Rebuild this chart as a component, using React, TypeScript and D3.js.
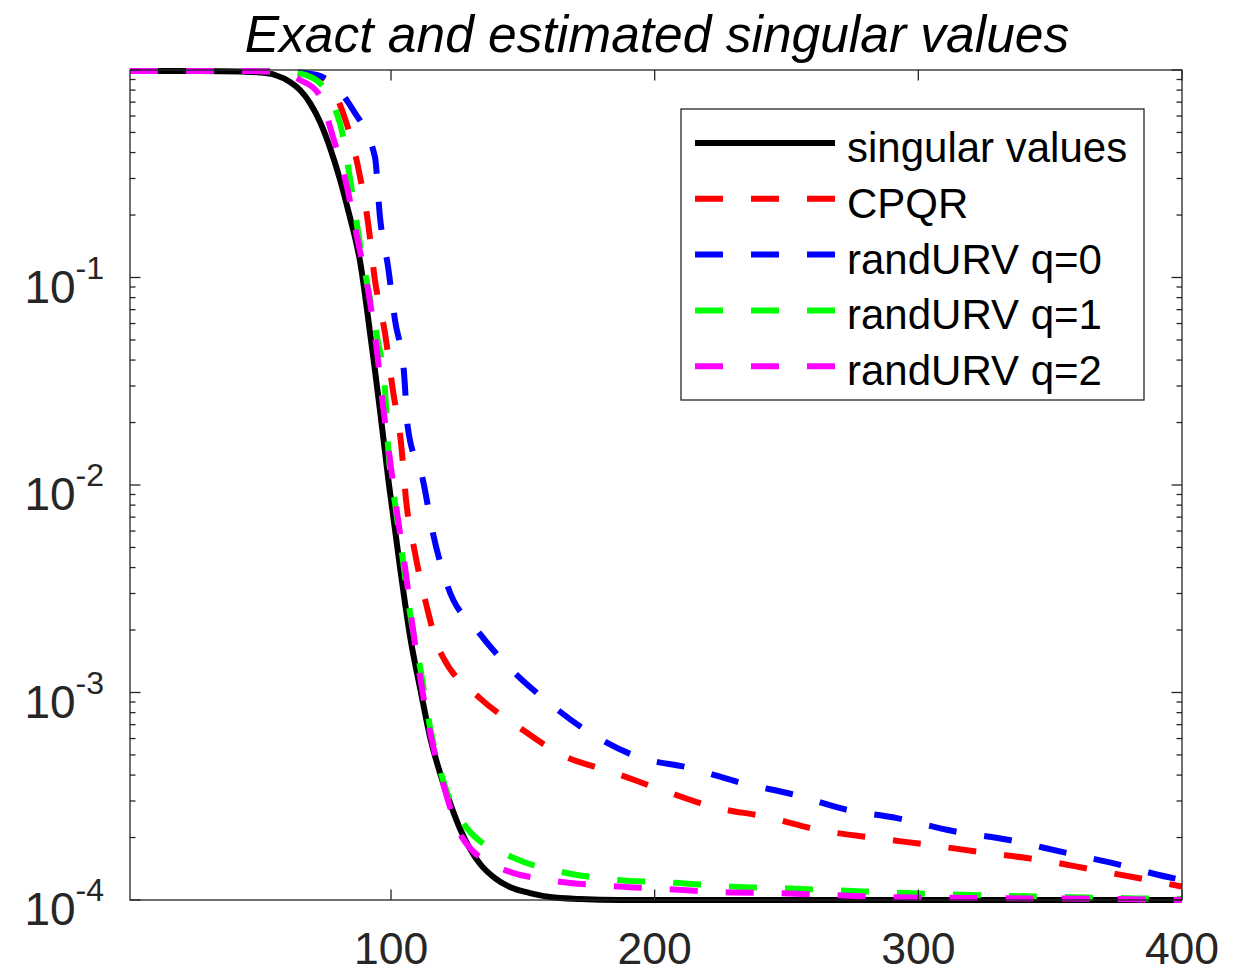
import React from "react";
import * as d3 from "d3";

// [index, value] samples
const singularValues: [number, number][] = [
  [1, 0.989], [27.6, 0.989], [42.7, 0.9835], [50.3, 0.9726], [56.0, 0.946], [61.7, 0.8753],
  [65.5, 0.801], [69.3, 0.693], [73.1, 0.5615], [76.9, 0.4208], [80.7, 0.2951], [84.5, 0.1935],
  [86.4, 0.155], [88.3, 0.1188], [90.1, 0.0833], [92.0, 0.0546], [93.9, 0.0358], [95.8, 0.023],
  [99.2, 0.01011], [103.4, 0.004025], [107.2, 0.001873], [111.4, 0.000994], [114.8, 6.1e-4],
  [118.6, 4.09e-4], [122.4, 2.934e-4], [126.2, 2.199e-4], [130.0, 1.761e-4], [133.8, 1.491e-4],
  [139.4, 1.276e-4], [145.1, 1.155e-4], [152.7, 1.08e-4], [160.3, 1.034e-4], [171.7, 1.011e-4],
  [186.8, 1.0e-4], [300, 1.0e-4], [400, 1.0e-4],
];

const cpqr: [number, number][] = [
  [1, 0.99], [46.5, 0.99], [61.7, 0.978], [69.3, 0.946], [74.2, 0.915], [81.8, 0.621],
  [87.5, 0.341], [91.3, 0.183], [93.9, 0.0973], [97.7, 0.054], [100.7, 0.0287],
  [103.8, 0.0159], [105.7, 0.00847], [109.1, 0.0047], [113.6, 0.00258], [117.8, 0.00166],
  [119.7, 0.00148], [133.7, 9.4e-4], [148.9, 6.75e-4], [164.8, 5.0e-4], [183.8, 4.14e-4],
  [202.8, 3.39e-4], [222.1, 2.81e-4], [242.6, 2.51e-4], [262.7, 2.17e-4], [283.6, 1.99e-4],
  [304.4, 1.84e-4], [325.3, 1.69e-4], [346.1, 1.56e-4], [366.2, 1.4e-4], [387.1, 1.25e-4],
  [400, 1.16e-4],
];

const randURVq0: [number, number][] = [
  [1, 0.99], [46.5, 0.99], [61.7, 0.978], [71.9, 0.946], [85.6, 0.641], [93.9, 0.381],
  [95.8, 0.196], [98.9, 0.112], [101.5, 0.0624], [104.9, 0.035], [106.4, 0.0188],
  [112.1, 0.01057], [115.9, 0.00587], [121.6, 0.00322], [132.6, 0.002], [145.1, 0.00131],
  [159.5, 9.0e-4], [175.5, 6.38e-4], [193.7, 4.89e-4], [213.4, 4.33e-4], [233.1, 3.66e-4],
  [253.2, 3.21e-4], [272.9, 2.72e-4], [291.9, 2.48e-4], [313.1, 2.15e-4], [334, 1.95e-4],
  [354.9, 1.7e-4], [375.3, 1.49e-4], [394.7, 1.29e-4], [400, 1.25e-4],
];

const randURVq1: [number, number][] = [
  [1, 0.99], [46.5, 0.99], [61.7, 0.978], [70.4, 0.915], [80.6, 0.555], [84.4, 0.302],
  [87.5, 0.166], [90.9, 0.094], [94.7, 0.0517], [97.7, 0.0287], [98.9, 0.01525],
  [101.5, 0.00819], [104.5, 0.00435], [107.2, 0.00242], [111, 0.00133], [114.8, 6.82e-4],
  [119.7, 3.79e-4], [128.8, 2.22e-4], [145.9, 1.61e-4], [165.2, 1.36e-4], [186.1, 1.25e-4],
  [207.7, 1.21e-4], [229.3, 1.16e-4], [247.5, 1.14e-4], [295.7, 1.08e-4], [335.9, 1.045e-4],
  [379.1, 1.02e-4], [400, 1.01e-4],
];

const randURVq2: [number, number][] = [
  [1, 0.99], [46.5, 0.99], [58, 0.975], [65.5, 0.895], [72.3, 0.775], [78, 0.475],
  [83.3, 0.273], [87.5, 0.148], [91.3, 0.087], [94.7, 0.0437], [97, 0.0238], [99.6, 0.0132],
  [102.3, 0.00733], [105.3, 0.00403], [108, 0.00216], [111, 0.00119], [114.8, 6.45e-4],
  [119.7, 3.66e-4], [126.9, 2.01e-4], [141.3, 1.43e-4], [161.4, 1.24e-4], [183, 1.17e-4],
  [204.7, 1.13e-4], [225.9, 1.09e-4], [244.9, 1.08e-4], [293, 1.03e-4], [332.9, 1.02e-4],
  [375.7, 1.01e-4], [400, 1.0e-4],
];

const seriesNames = ["singular values", "CPQR", "randURV q=0", "randURV q=1", "randURV q=2"];
const seriesColors = ["#000000", "#ff0000", "#0000ff", "#00ff00", "#ff00ff"];
const seriesData = [singularValues, cpqr, randURVq0, randURVq1, randURVq2];

const xTicks = [100, 200, 300, 400];
const yMajorExps = [-4, -3, -2, -1];
const titleText = "Exact and estimated singular values";

export default function App() {
  const W = 1246, H = 973;
  const left = 130, right = 1182, top = 70, bottom = 900;
  const x = d3.scaleLinear().domain([1, 400]).range([left, right]);
  const y = d3.scaleLog().domain([1e-4, 1]).range([bottom, top]);
  const line = d3
    .line<[number, number]>()
    .x((d) => x(d[0]))
    .y((d) => y(d[1]))
    .curve(d3.curveMonotoneX);

  const axisColor = "#262626";
  const font = "'Liberation Sans', Arial, Helvetica, sans-serif";

  const minorTicks: number[] = [];
  for (let e = -4; e < 0; e++) {
    for (let m = 2; m <= 9; m++) minorTicks.push(m * Math.pow(10, e));
  }
  const majorTicks = [1e-4, 1e-3, 1e-2, 1e-1, 1];

  const legX = 681, legY = 109, legW = 463, legH = 291;
  const rowY = (i: number) => 143 + i * 55.8;

  return (
    <svg
      width={W}
      height={H}
      style={{ position: "absolute", left: 0, top: 0, background: "#fff" }}
      fontFamily={font}
    >
      <rect x={0} y={0} width={W} height={H} fill="#fff" />
      {/* Title */}
      <text x={657} y={52} textAnchor="middle" fontSize={51.5} fontStyle="italic" fill="#000">
        {titleText}
      </text>

      {/* series */}
      {seriesData.map((d, i) => (
        <path
          key={seriesNames[i]}
          d={line(d) || ""}
          fill="none"
          stroke={seriesColors[i]}
          strokeWidth={6}
          strokeDasharray={i === 0 ? undefined : "28,28"}
          strokeLinejoin="round"
        />
      ))}

      {/* axes box */}
      <rect
        x={left}
        y={top}
        width={right - left}
        height={bottom - top}
        fill="none"
        stroke={axisColor}
        strokeWidth={1.3}
      />

      {/* y ticks */}
      {majorTicks.map((v) => (
        <g key={"ma" + v}>
          <line x1={left} x2={left + 10.5} y1={y(v)} y2={y(v)} stroke={axisColor} strokeWidth={1.3} />
          <line x1={right} x2={right - 10.5} y1={y(v)} y2={y(v)} stroke={axisColor} strokeWidth={1.3} />
        </g>
      ))}
      {minorTicks.map((v) => (
        <g key={"mi" + v}>
          <line x1={left} x2={left + 5.5} y1={y(v)} y2={y(v)} stroke={axisColor} strokeWidth={1.3} />
          <line x1={right} x2={right - 5.5} y1={y(v)} y2={y(v)} stroke={axisColor} strokeWidth={1.3} />
        </g>
      ))}
      {yMajorExps.map((e) => (
        <text
          key={"yl" + e}
          x={104}
          y={y(Math.pow(10, e)) + 25}
          textAnchor="end"
          fontSize={46}
          fill={axisColor}
        >
          10
          <tspan fontSize={32} dy={-24}>
            {String(e)}
          </tspan>
        </text>
      ))}

      {/* x ticks */}
      {xTicks.map((t) => (
        <g key={"xt" + t}>
          <line x1={x(t)} x2={x(t)} y1={bottom} y2={bottom - 10.5} stroke={axisColor} strokeWidth={1.3} />
          <line x1={x(t)} x2={x(t)} y1={top} y2={top + 10.5} stroke={axisColor} strokeWidth={1.3} />
          <text x={x(t)} y={964} textAnchor="middle" fontSize={44.5} fill={axisColor}>
            {t}
          </text>
        </g>
      ))}

      {/* legend */}
      <rect x={legX} y={legY} width={legW} height={legH} fill="#fff" stroke={axisColor} strokeWidth={1.3} />
      {seriesNames.map((n, i) => (
        <g key={"lg" + n}>
          <line
            x1={695}
            x2={835}
            y1={rowY(i)}
            y2={rowY(i)}
            stroke={seriesColors[i]}
            strokeWidth={6}
            strokeDasharray={i === 0 ? undefined : "28,28"}
          />
          <text x={847} y={rowY(i) + 19} fontSize={42} fill="#000">
            {n}
          </text>
        </g>
      ))}
    </svg>
  );
}
